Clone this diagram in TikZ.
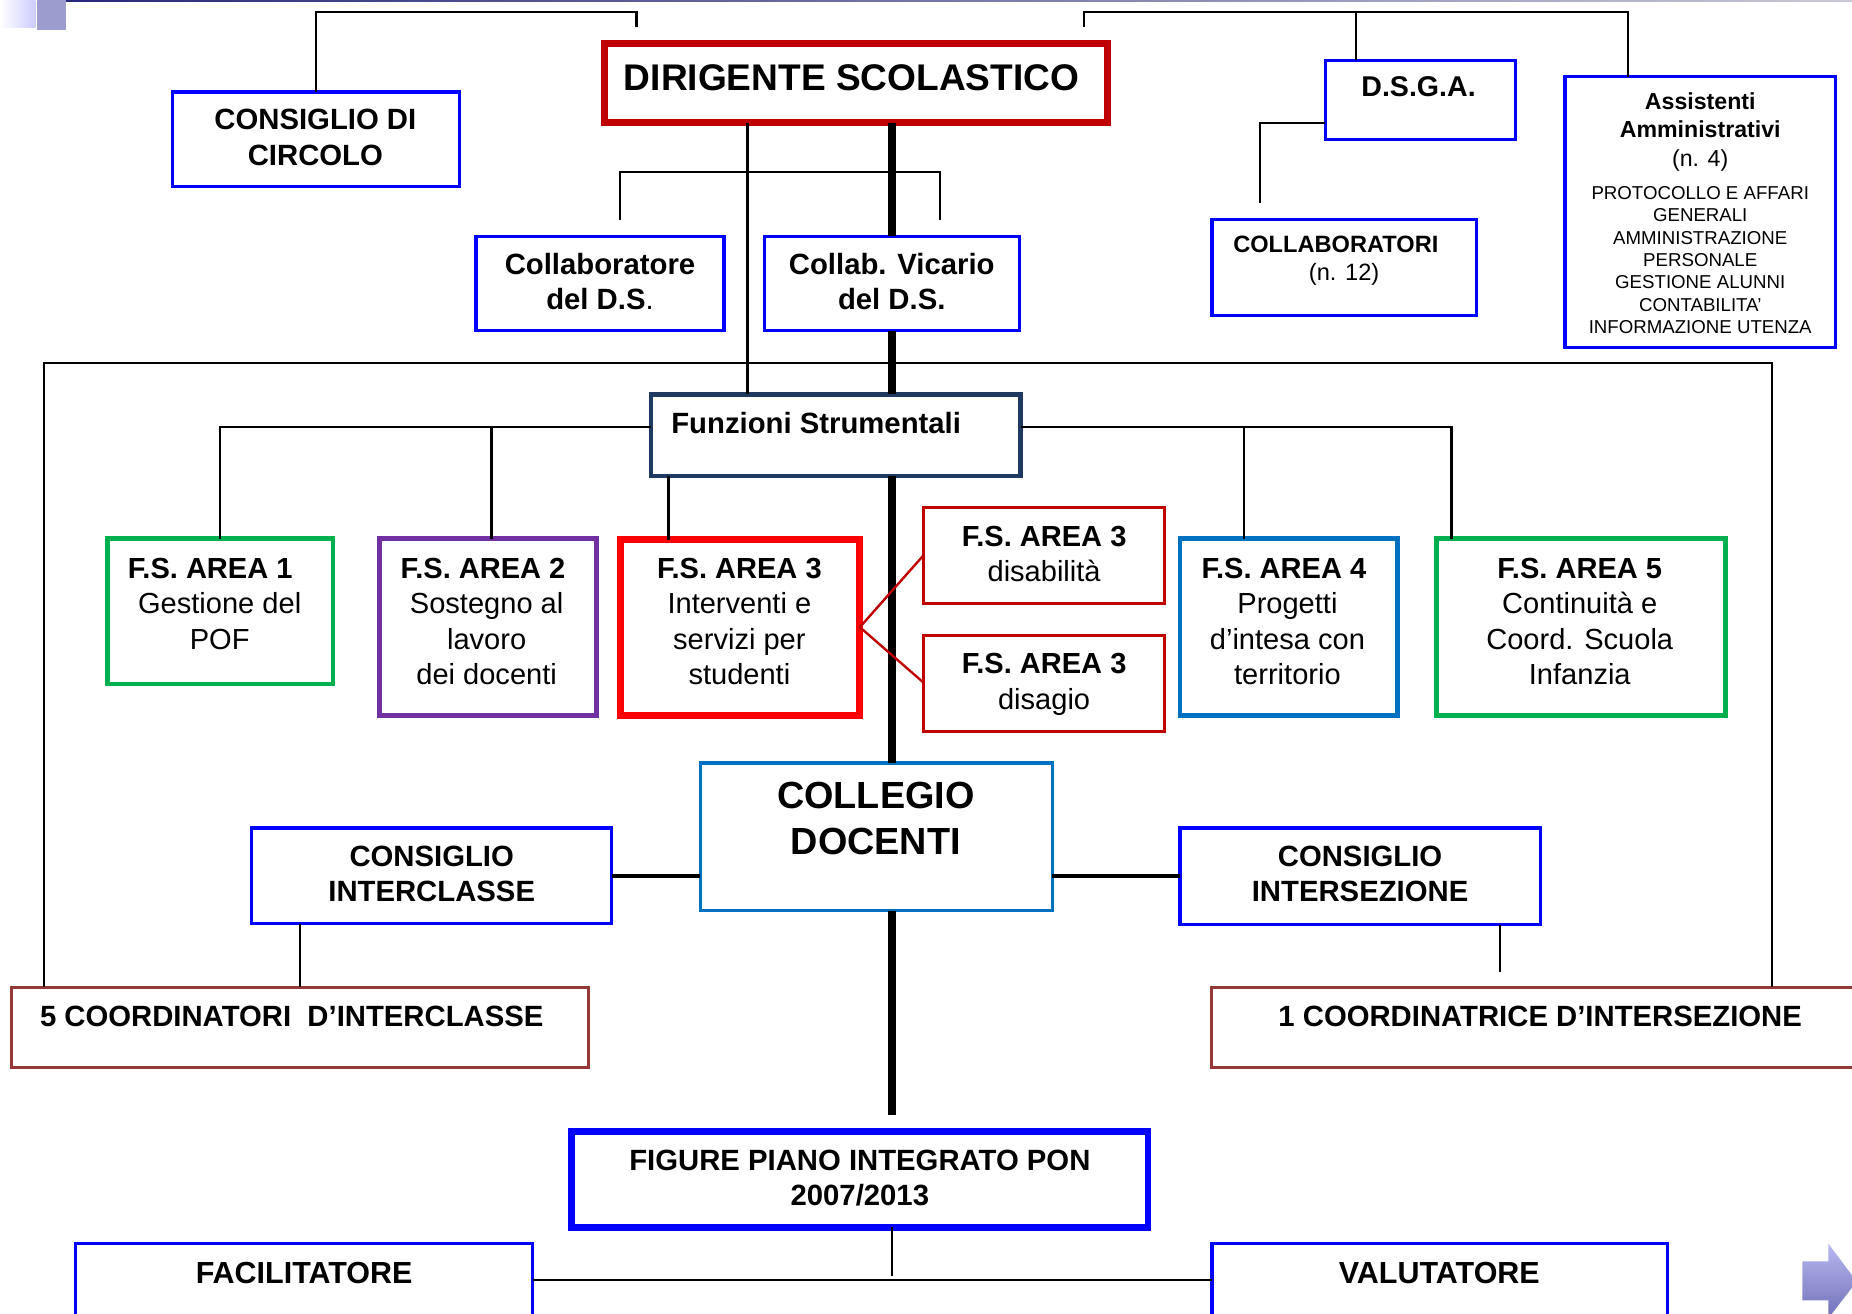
\documentclass[tikz,border=0pt]{standalone}
\usepackage{fontspec}
\setmainfont{Liberation Sans}
\definecolor{cblue}{HTML}{0000FF}
\definecolor{cdred}{HTML}{C00000}
\definecolor{cred}{HTML}{FF0000}
\definecolor{cnavy}{HTML}{1F3A60}
\definecolor{cgreen}{HTML}{00B050}
\definecolor{cpurple}{HTML}{7030A0}
\definecolor{cmblue}{HTML}{0070C0}
\definecolor{cbrown}{HTML}{953735}
\newcommand\orgbox[6]{%
  \node[#1, minimum width={(#5-#3)*0.5pt}, minimum height={(#6-#4)*0.5pt}] (#2) at ({(#3+#5)/2},{(#4+#6)/2}) {};}
\tikzset{
  orgb/.style={draw, rectangle, inner sep=0pt, outer sep=0pt},
  bluebox/.style={orgb, draw=cblue, line width=1.4pt},
  tb/.style={inner sep=0pt, anchor=north, align=center, font=\fontsize{12.4}{15}\selectfont\bfseries},
  tr/.style={inner sep=0pt, anchor=north, align=center, font=\fontsize{12.3}{15}\selectfont},
  conn/.style={draw=black, line width=1pt},
  spineline/.style={draw=black, line width=3.1pt},
}
\begin{document}
\begin{tikzpicture}[x=0.5pt, y=-0.5pt]
\useasboundingbox (0,0) rectangle (1568,1112);
\clip (0,0) rectangle (1568,1112);
% slide decorations
\fill[left color=white, right color=blue!20!white] (0,0) rectangle (30,23);
\fill[color={rgb,255:red,156;green,156;blue,206}] (31.5,0) rectangle (56,25);
\fill[left color={rgb,255:red,40;green,40;blue,122}, right color={rgb,255:red,200;green,200;blue,214}] (56,0) rectangle (1568,1.6);

% boxes
\orgbox{orgb, draw=cdred, line width=3pt}{dir}{512}{37}{938}{104}
\orgbox{bluebox}{cdc}{146}{78}{389}{158}
\orgbox{bluebox}{col}{403}{200}{613}{280}
\orgbox{bluebox}{vic}{647}{200}{863}{280}
\orgbox{bluebox}{dsga}{1122}{51}{1283}{118}
\orgbox{bluebox}{colab}{1026}{186}{1250}{267}
\orgbox{bluebox}{ass}{1325}{65}{1554}{294}
\orgbox{orgb, draw=cnavy, line width=1.75pt}{fs}{551}{334}{864}{403}
\orgbox{orgb, draw=cgreen, line width=2pt}{a1}{91}{456}{282}{579}
\orgbox{orgb, draw=cpurple, line width=2pt}{a2}{321}{456}{505}{606}
\orgbox{orgb, draw=cred, line width=3pt}{a3}{525}{457}{728}{606}
\orgbox{orgb, draw=cdred, line width=1.3pt}{a3d}{782}{430}{986}{511}
\orgbox{orgb, draw=cdred, line width=1.3pt}{a3g}{782}{538}{986}{619}
\orgbox{orgb, draw=cmblue, line width=2pt}{a4}{999}{456}{1183}{606}
\orgbox{orgb, draw=cgreen, line width=2pt}{a5}{1216}{456}{1461}{606}
\orgbox{orgb, draw=cmblue, line width=1.5pt}{cd}{593}{646}{891}{771}
\orgbox{bluebox}{ci}{213}{701}{518}{782}
\orgbox{bluebox}{cs}{999}{701}{1304}{783}
\orgbox{orgb, draw=cbrown, line width=1.3pt}{c5}{10}{836}{498}{904}
\orgbox{orgb, draw=cbrown, line width=1.3pt}{c1}{1026}{836}{1590}{904}
\orgbox{orgb, draw=cblue, line width=2.8pt}{fig}{484}{958}{972}{1039}
\orgbox{bluebox}{fac}{64}{1053}{451}{1140}
\orgbox{bluebox}{val}{1026}{1053}{1412}{1140}

% texts
\node[tb, font=\fontsize{15.7}{18}\selectfont\bfseries] (tdir) at (721,54) {DIRIGENTE SCOLASTICO};
\node[tb] (tcdc) at (267,92) {CONSIGLIO DI\\CIRCOLO};
\node[tb] (tcol) at (508,214) {Collaboratore\\del D.S{\mdseries .}};
\node[tb] (tvic) at (755,214) {Collab. Vicario\\del D.S.};
\node[tb, font=\fontsize{12.1}{15}\selectfont\bfseries] (tdsga) at (1201,64) {D.S.G.A.};
\node[tb, font=\fontsize{10}{12}\selectfont\bfseries] (tcolab) at (1131,199) {COLLABORATORI};
\node[tr, font=\fontsize{10}{12}\selectfont] (tcolabn) at (1138,223) {(n. 12)};
\node[tb, font=\fontsize{9.8}{12}\selectfont\bfseries] (tass) at (1439.5,78) {Assistenti\\Amministrativi\\{\mdseries (n. 4)}};
\node[tr, font=\fontsize{7.9}{9.45}\selectfont] (tassl) at (1439.5,157.5) {PROTOCOLLO E AFFARI\\GENERALI\\AMMINISTRAZIONE\\PERSONALE\\GESTIONE ALUNNI\\CONTABILITA’\\INFORMAZIONE UTENZA};
\node[tb] (tfs) at (691,349) {Funzioni Strumentali};
\node[tr] (ta1) at (186,472) {\textbf{F.S. AREA 1}\hspace*{8pt}\\Gestione del\\POF};
\node[tr] (ta2) at (412,472) {\textbf{F.S. AREA 2}\hspace*{3pt}\\Sostegno al\\lavoro\\dei docenti};
\node[tr] (ta3) at (626,472) {\textbf{F.S. AREA 3}\\Interventi e\\servizi per\\studenti};
\node[tr] (ta3d) at (884,445) {\textbf{F.S. AREA 3}\\disabilità};
\node[tr] (ta3g) at (884,553) {\textbf{F.S. AREA 3}\\disagio};
\node[tr] (ta4) at (1090,472) {\textbf{F.S. AREA 4}\hspace*{3pt}\\Progetti\\d’intesa con\\territorio};
\node[tr] (ta5) at (1337.5,472) {\textbf{F.S. AREA 5}\\Continuità e\\Coord. Scuola\\Infanzia};
\node[tb, font=\fontsize{16}{19.4}\selectfont\bfseries] (tcd) at (741.5,662) {COLLEGIO\\DOCENTI};
\node[tb, font=\fontsize{12.4}{14.6}\selectfont\bfseries] (tci) at (365.5,716) {CONSIGLIO\\INTERCLASSE};
\node[tb, font=\fontsize{12.4}{14.6}\selectfont\bfseries] (tcs) at (1151.5,716) {CONSIGLIO\\INTERSEZIONE};
\node[tb] (tc5) at (247,851.6) {5 COORDINATORI\ \ D’INTERCLASSE};
\node[tb] (tc1) at (1304,851.6) {1 COORDINATRICE D’INTERSEZIONE};
\node[tb] (tfig) at (728,973) {FIGURE PIANO INTEGRATO PON\\2007/2013};
\node[tb, font=\fontsize{12.9}{15}\selectfont\bfseries] (tfac) at (257.5,1068) {FACILITATORE};
\node[tb, font=\fontsize{12.9}{15}\selectfont\bfseries] (tval) at (1218.6,1068) {VALUTATORE};

% coordinates for connectors
\coordinate (tl) at (539,10);
\coordinate (tlend) at (539,23);
\coordinate (tr0) at (918,23);
\coordinate (tr1) at (918,10);
\coordinate (tr2) at (1378.5,10);
\coordinate (trb) at (1148,10);
\coordinate (dg1) at (1067,104.4);
\coordinate (dg2) at (1067,172);
\coordinate (vx) at (633,0);
\coordinate (spine) at (755.3,0);
\coordinate (spineend) at (755.3,944);
\coordinate (bl) at (525,186);
\coordinate (blt) at (525,145.4);
\coordinate (brt) at (796,145.4);
\coordinate (br) at (796,186);
\coordinate (fl) at (37,307.5);
\coordinate (fr) at (1500.5,307.5);
\coordinate (fsl) at (186,361.3);
\coordinate (fsl2) at (416,361.3);
\coordinate (fsr) at (1229,361.3);
\coordinate (fsr2) at (1053,361.3);
\coordinate (a3x) at (566,0);
\coordinate (fan0) at (0,531);
\coordinate (fan1) at (0,470);
\coordinate (fan2) at (0,578);
\coordinate (cdl) at (0,741.6);
\coordinate (cdr) at (0,741.6);
\coordinate (cix) at (254,0);
\coordinate (csx) at (1270,0);
\coordinate (csend) at (1270,822.7);
\coordinate (figend) at (755.3,1080);
\coordinate (boty) at (0,1083.5);

% connectors
\draw[conn] (cdc.north) |- (tl) -- (tlend);
\draw[conn] (tr0) -- (tr1) -- (tr2) -- (tr2 |- ass.north);
\draw[conn] (trb) -- (trb |- dsga.north);
\draw[conn] (dsga.west |- dg1) -- (dg1) -- (dg2);
\draw[conn] (dir.south -| vx) -- (fs.north -| vx);
\draw[conn] (bl) -- (blt) -- (brt) -- (br);
\draw[spineline] (dir.south -| spine) -- (vic.north -| spine);
\draw[spineline] (vic.south -| spine) -- (fs.north -| spine);
\draw[spineline] (fs.south -| spine) -- (cd.north -| spine);
\draw[spineline] (cd.south -| spine) -- (spineend);
\draw[conn] (c5.north -| fl) -- (fl) -- (fr) -- (c1.north -| fr);
\draw[conn] (fs.west |- fsl) -- (fsl) -- (a1.north -| fsl);
\draw[conn] (fsl2) -- (a2.north -| fsl2);
\draw[conn] (fs.east |- fsr) -- (fsr) -- (a5.north -| fsr);
\draw[conn] (fsr2) -- (a4.north -| fsr2);
\draw[conn] (fs.south -| a3x) -- (a3.north -| a3x);
\draw[draw=cdred, line width=1pt] (a3d.west |- fan1) -- (a3.east |- fan0) -- (a3g.west |- fan2);
\draw[draw=black, line width=1.5pt] (cd.west |- cdl) -- (ci.east |- cdl);
\draw[draw=black, line width=1.5pt] (cd.east |- cdr) -- (cs.west |- cdr);
\draw[conn] (ci.south -| cix) -- (c5.north -| cix);
\draw[conn] (cs.south -| csx) -- (csend);
\draw[conn] (fig.south -| spine) -- (figend);
\draw[conn] (fac.east |- boty) -- (val.west |- boty);

% navigation arrow icon
\shade[top color={rgb,255:red,184;green,184;blue,240}, bottom color={rgb,255:red,112;green,112;blue,184}]
  (1526,1068) -- (1548,1068) -- (1548,1053) -- (1572,1085) -- (1548,1116) -- (1548,1101) -- (1526,1101) -- cycle;
\end{tikzpicture}
\end{document}
